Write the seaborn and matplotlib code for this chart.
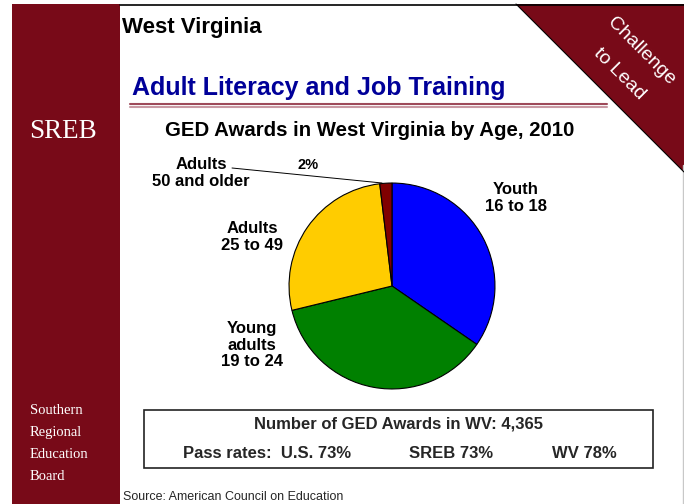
import matplotlib
matplotlib.use("Agg")
import matplotlib.pyplot as plt
import seaborn as sns
from matplotlib.patches import Rectangle, Polygon

sns.set_theme(style="white")
plt.rcParams['font.family'] = ['Liberation Sans', 'DejaVu Sans']

# data
age_groups = ['Youth\n16 to 18', 'Young\nadults\n19 to 24', 'Adults\n25 to 49', 'Adults\n50 and older']
shares = [34.6, 36.6, 26.9, 1.9]
share_labels = ['35%', '37%', '27%', '2%']
wedge_colors = ['#0000FF', '#008000', '#FFCC00', '#800000']
pct_colors = ['white', 'white', 'black', 'black']
total_awards = '4,365'
pass_regions = ['U.S.', 'SREB', 'WV']
pass_rates = [73, 73, 78]

MAROON = '#780A18'
W, H = 684, 504

fig = plt.figure(figsize=(W / 100, H / 100), dpi=100)
bg = fig.add_axes([0, 0, 1, 1])
bg.set_xlim(0, W)
bg.set_ylim(H, 0)
bg.axis('off')

# left strip and top border
bg.add_patch(Rectangle((12, 4), 108, H, facecolor=MAROON, edgecolor='none'))
bg.plot([120, W], [4.5, 4.5], color='black', lw=1.2)
bg.plot([683, 683], [165, H], color='#c8c8c8', lw=1.0)

# corner triangle
bg.add_patch(Polygon([(516, 4), (W, 4), (W, 172)], closed=True,
                     facecolor=MAROON, edgecolor='none'))
bg.plot([516, W], [4, 172], color='black', lw=0.8)
bg.text(641, 51, 'Challenge', color='white', fontsize=14, rotation=-45,
        ha='center', va='center')
bg.text(619, 74, 'to Lead', color='white', fontsize=14, rotation=-45,
        ha='center', va='center')

# left strip text
serif = ['Liberation Serif', 'DejaVu Serif']
bg.text(29, 131, 'SREB', color='white', fontsize=19.5, family=serif,
        ha='left', va='center')
for i, word in enumerate(['Southern', 'Regional', 'Education', 'Board']):
    bg.text(30, 411 + i * 21.7, word, color='white', fontsize=10.5,
            family=serif, ha='left', va='center')

# headings
bg.text(122, 27, 'West Virginia', fontsize=16, fontweight='bold',
        color='black', ha='left', va='center')
bg.text(132, 88.5, 'Adult Literacy and Job Training', fontsize=18,
        fontweight='bold', color='#000099', ha='left', va='center')
bg.plot([130, 607], [103.7, 103.7], color='#9E4A5A', lw=1.5)
bg.plot([130, 607], [107, 107], color='#C89AA4', lw=1.5)
bg.text(370, 130, 'GED Awards in West Virginia by Age, 2010', fontsize=14.7,
        fontweight='bold', color='black', ha='center', va='center')

# pie
cx, cy, r = 392, 286, 104
pie_ax = fig.add_axes([(cx - r) / W, (H - cy - r) / H, 2 * r / W, 2 * r / H])
pie_ax.pie(shares, colors=wedge_colors, startangle=90, counterclock=False,
           radius=1, wedgeprops=dict(edgecolor='black', linewidth=0.8))
pie_ax.set_aspect('equal')
pie_ax.set_xlim(-1.01, 1.01)
pie_ax.set_ylim(-1.01, 1.01)
pie_ax.axis('off')

pct_pos = [(436, 258), (377, 333), (342, 248), (308, 165)]
for (px, py), lab, col in zip(pct_pos, share_labels, pct_colors):
    bg.text(px, py, lab, color=col, fontsize=10.5, fontweight='bold',
            ha='center', va='center')

cat_pos = [(516, 198), (252, 345), (252, 237), (201, 173)]
for (px, py), lab in zip(cat_pos, age_groups):
    bg.text(px, py, lab, fontsize=12, fontweight='bold', color='black',
            ha='center', va='center', linespacing=1.15)
bg.plot([232, 382], [168, 183], color='black', lw=0.7)

# summary box
bg.add_patch(Rectangle((144, 410), 509, 58, facecolor='white',
                       edgecolor='#222222', lw=1.2))
bg.text(399, 424, f'Number of GED Awards in WV: {total_awards}', fontsize=12,
        fontweight='bold', ha='center', va='center')
pass_texts = [f'{reg} {rate}%' for reg, rate in zip(pass_regions, pass_rates)]
pass_texts[0] = 'Pass rates:  ' + pass_texts[0]
for x0, txt in zip([183, 409, 552], pass_texts):
    bg.text(x0, 454, txt, fontsize=12, fontweight='bold',
            ha='left', va='center')

bg.text(123, 497, 'Source: American Council on Education', fontsize=9,
        ha='left', va='center')

fig.savefig('out.png', dpi=100)
